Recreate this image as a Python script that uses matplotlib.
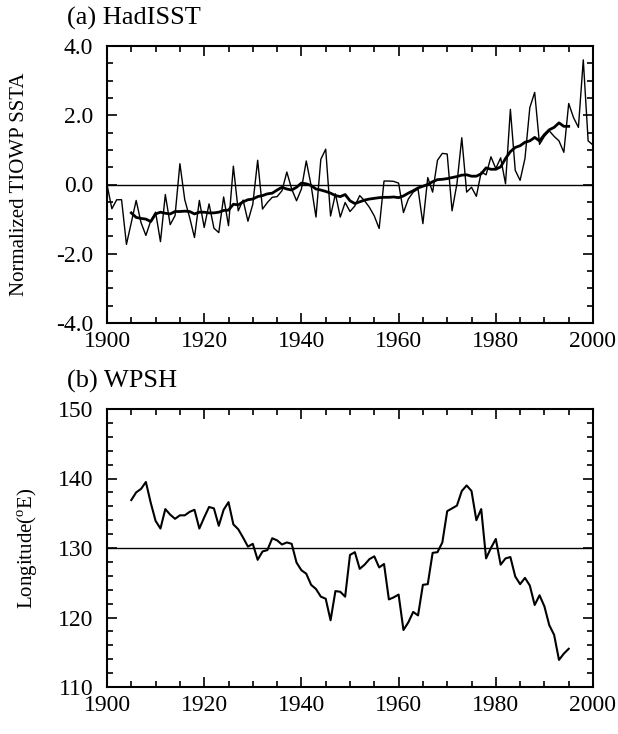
import numpy as np
import matplotlib
matplotlib.use('Agg')
import matplotlib.pyplot as plt
from matplotlib.ticker import MultipleLocator

plt.rcParams['font.family'] = ['Liberation Serif', 'DejaVu Serif']
plt.rcParams['mathtext.fontset'] = 'custom'
plt.rcParams['mathtext.rm'] = 'Liberation Serif'

# (a) HadISST normalized TIOWP SSTA, annual 1900-2000
sst_years = list(range(1900, 2001))
sst_annual = [
    0.00, -0.70, -0.44, -0.44, -1.73, -1.10, -0.46, -1.10, -1.47, -1.05,
    -0.80, -1.65, -0.29, -1.16, -0.90, 0.60, -0.44, -0.95, -1.53, -0.46,
    -1.24, -0.56, -1.26, -1.39, -0.36, -1.19, 0.53, -0.76, -0.45, -1.06,
    -0.57, 0.70, -0.71, -0.52, -0.37, -0.35, -0.18, 0.36, -0.13, -0.47,
    -0.13, 0.68, -0.03, -0.94, 0.73, 1.02, -0.91, -0.27, -0.94, -0.52,
    -0.78, -0.62, -0.32, -0.47, -0.66, -0.91, -1.27, 0.10, 0.10, 0.09,
    0.04, -0.81, -0.42, -0.22, -0.13, -1.13, 0.20, -0.22, 0.70, 0.90,
    0.88, -0.76, 0.02, 1.35, -0.22, -0.08, -0.34, 0.36, 0.28, 0.80,
    0.46, 0.77, 0.02, 2.17, 0.41, 0.12, 0.75, 2.22, 2.66, 1.16,
    1.39, 1.55, 1.39, 1.26, 0.93, 2.34, 1.93, 1.65, 3.60, 1.26,
    1.14,
]

# 11-yr running mean, 1905-1995
smooth_years = list(range(1905, 1996))
sst_smooth = [
    -0.82, -0.95, -0.98, -1.00, -1.07, -0.85, -0.80, -0.83, -0.85, -0.78,
    -0.78, -0.77, -0.78, -0.85, -0.80, -0.80, -0.82, -0.82, -0.80, -0.75,
    -0.74, -0.57, -0.59, -0.50, -0.44, -0.42, -0.35, -0.32, -0.27, -0.25,
    -0.16, -0.08, -0.13, -0.16, -0.08, 0.04, 0.02, -0.03, -0.13, -0.16,
    -0.20, -0.25, -0.32, -0.35, -0.29, -0.47, -0.55, -0.50, -0.45, -0.42,
    -0.40, -0.38, -0.37, -0.37, -0.36, -0.38, -0.33, -0.25, -0.18, -0.10,
    -0.05, 0.00, 0.08, 0.14, 0.15, 0.17, 0.20, 0.23, 0.27, 0.28,
    0.24, 0.24, 0.31, 0.48, 0.44, 0.44, 0.51, 0.75, 0.95, 1.07,
    1.12, 1.22, 1.26, 1.36, 1.26, 1.44, 1.58, 1.65, 1.78, 1.68,
    1.68,
]

# (b) WPSH western ridge longitude, 1905-1995
wpsh_years = list(range(1905, 1996))
wpsh_lon = [
    136.9, 138.0, 138.5, 139.5, 136.5, 133.9, 132.8, 135.6, 134.8, 134.2,
    134.7, 134.7, 135.2, 135.5, 132.8, 134.4, 135.9, 135.7, 133.2, 135.5,
    136.6, 133.4, 132.7, 131.5, 130.2, 130.6, 128.3, 129.5, 129.7, 131.4,
    131.1, 130.5, 130.8, 130.6, 127.9, 126.8, 126.3, 124.7, 124.1, 123.0,
    122.7, 119.6, 123.8, 123.7, 123.0, 129.0, 129.4, 127.0, 127.6, 128.4,
    128.8, 127.2, 127.7, 122.6, 122.9, 123.3, 118.2, 119.3, 120.8, 120.3,
    124.7, 124.8, 129.3, 129.4, 130.8, 135.3, 135.7, 136.1, 138.2, 139.0,
    138.2, 134.0, 135.6, 128.5, 130.0, 131.3, 127.6, 128.5, 128.7, 125.9,
    124.8, 125.7, 124.6, 121.8, 123.2, 121.6, 118.9, 117.5, 113.9, 114.8,
    115.5,
]

sst_ticks = [4.0, 2.0, 0.0, -2.0, -4.0]
sst_ticklabels = ['4.0', '2.0', '0.0', '-2.0', '-4.0']
lon_ticks = [150, 140, 130, 120, 110]
year_ticks = [1900, 1920, 1940, 1960, 1980, 2000]

W, H = 618, 734
fig = plt.figure(figsize=(W / 100, H / 100), dpi=100)


def px_axes(left, top, right, bottom):
    return fig.add_axes([left / W, 1 - bottom / H, (right - left) / W, (bottom - top) / H])


def style(ax):
    ax.tick_params(which='both', direction='in', top=True, right=True,
                   labelsize=17, width=1.2)
    ax.tick_params(axis='x', pad=6)
    ax.tick_params(axis='y', pad=10)
    ax.tick_params(which='major', length=7)
    ax.tick_params(which='minor', length=4)
    for s in ax.spines.values():
        s.set_linewidth(1.5)
    ax.set_xlim(1900, 2000)
    ax.set_xticks(year_ticks)
    ax.xaxis.set_minor_locator(MultipleLocator(5))


# panel (a)
ax1 = px_axes(107, 46, 593, 323)
ax1.axhline(0, color='black', lw=1.0)
ax1.plot(sst_years, sst_annual, color='black', lw=1.0)
ax1.plot(smooth_years, sst_smooth, color='black', lw=2.0)
style(ax1)
ax1.set_ylim(-4, 4)
ax1.set_yticks(sst_ticks)
ax1.set_yticklabels(sst_ticklabels)
ax1.yaxis.set_minor_locator(MultipleLocator(0.5))
ax1.set_ylabel('Normalized TIOWP SSTA', fontsize=15)
ax1.yaxis.set_label_coords((29 - 107) / 486, 0.5)
fig.text(67 / W, 1 - 18 / H, '(a) HadISST', fontsize=19, va='center', ha='left')

# panel (b)
ax2 = px_axes(107, 409, 593, 687)
ax2.axhline(130, color='black', lw=1.0)
ax2.plot(wpsh_years, wpsh_lon, color='black', lw=1.5)
style(ax2)
ax2.set_ylim(110, 150)
ax2.set_yticks(lon_ticks)
ax2.yaxis.set_minor_locator(MultipleLocator(2))
ax2.set_ylabel(r'Longitude($^{\rm o}$E)', fontsize=15)
ax2.yaxis.set_label_coords((40 - 107) / 486, 0.5)
fig.text(67 / W, 1 - 381 / H, '(b) WPSH', fontsize=19, va='center', ha='left')

fig.savefig('out.png', dpi=100)
